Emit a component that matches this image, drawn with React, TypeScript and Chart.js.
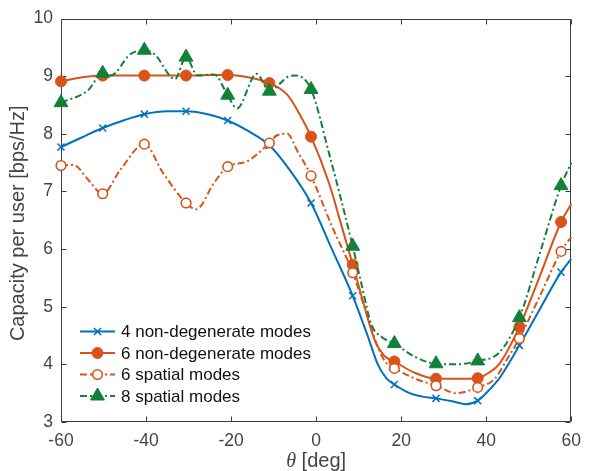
import React, { useEffect, useRef } from 'react';
import { Chart, registerables } from 'chart.js';

Chart.register(...registerables);

// ---------------- data ----------------
const markerTheta = [-60, -50.2, -40.4, -30.6, -20.8, -11, -1.2, 8.6, 18.4, 28.2, 38, 47.8, 57.6];

const seriesLabels = [
  '4 non-degenerate modes',
  '6 non-degenerate modes',
  '6 spatial modes',
  '8 spatial modes',
];

const theta4nd = [-60, -55, -50.2, -45, -40.4, -35, -30.6, -25, -20.8, -16, -11, -6.5, -1.2, 3.7, 8.6, 12, 14.5, 16.5, 18.4, 22, 25, 28.2, 32, 35.3, 38, 41, 43, 47.8, 52.7, 57.6, 60];
const cap4nd = [7.77, 7.94, 8.1, 8.24, 8.34, 8.39, 8.39, 8.33, 8.23, 8.05, 7.8, 7.4, 6.8, 6.0, 5.19, 4.52, 4.0, 3.76, 3.65, 3.5, 3.44, 3.41, 3.36, 3.31, 3.37, 3.58, 3.75, 4.33, 4.97, 5.6, 5.83];

const theta6nd = [-60, -55, -50.2, -45, -40.4, -35, -30.6, -25, -20.8, -16, -11, -6.7, -3.6, -1.2, 3, 5.8, 8.6, 11, 13.8, 16, 18.4, 23, 28.2, 33, 38, 40.5, 43, 47.8, 52.7, 57.6, 60];
const cap6nd = [8.91, 8.98, 9.01, 9.01, 9.01, 9.01, 9.01, 9.02, 9.02, 8.98, 8.88, 8.67, 8.3, 7.95, 7.15, 6.45, 5.73, 5.1, 4.41, 4.15, 4.05, 3.86, 3.75, 3.75, 3.76, 3.85, 4.0, 4.65, 5.55, 6.47, 6.78];

const theta6sp = [-60, -57, -53.7, -50.2, -46, -40.4, -36, -30.6, -28.2, -24, -20.8, -16.3, -11, -9.3, -6.8, -4.4, -1.2, 3.7, 8.6, 12, 14.5, 16.5, 18.4, 23, 28.2, 33, 38, 42, 45, 47.8, 52.7, 57.6, 60];
const cap6sp = [7.45, 7.46, 7.21, 6.96, 7.38, 7.82, 7.32, 6.8, 6.69, 7.15, 7.43, 7.52, 7.84, 7.97, 8.0, 7.7, 7.27, 6.4, 5.59, 4.85, 4.3, 4.02, 3.93, 3.76, 3.63, 3.5, 3.6, 3.75, 4.1, 4.45, 5.2, 5.96, 6.21];

const theta8sp = [-60, -53.7, -50.2, -48.3, -43.7, -40.4, -38, -33.2, -30.6, -27.9, -24, -20.8, -18.6, -14, -11, -6.3, -4.7, -1.2, 3, 8.6, 10.7, 13, 15.5, 18.4, 23, 28.2, 33, 38, 43, 47.8, 52.7, 57.6, 60];
const cap8sp = [8.54, 8.75, 9.05, 9.01, 9.38, 9.45, 9.38, 8.95, 9.33, 9.01, 9.03, 8.67, 8.44, 9.04, 8.74, 9.0, 9.01, 8.77, 7.67, 6.05, 5.38, 4.69, 4.47, 4.36, 4.14, 4.01, 4.0, 4.06, 4.2, 4.81, 5.95, 7.1, 7.5];

const xTickValues = [-60, -40, -20, 0, 20, 40, 60];
const yTickValues = [3, 4, 5, 6, 7, 8, 9, 10];

// ---------------- styles ----------------
const BLUE = '#0072BD';
const ORANGE = '#D95319';
const GREEN = '#118139';
const AXIS = '#3c3c3c';
const TEXT = '#444444';
const FONT = '"Liberation Sans", Arial, Helvetica, sans-serif';
const DASHDOT = [7, 3, 2, 3];

const markerSet = new Set(markerTheta);

type Style = {
  color: string;
  dash: number[];
  pointStyle: string;
  radius: number;
  fill: string;
  pbw: number;
};

const styles: Style[] = [
  { color: BLUE, dash: [], pointStyle: 'crossRot', radius: 5, fill: BLUE, pbw: 1.5 },
  { color: ORANGE, dash: [], pointStyle: 'circle', radius: 5.5, fill: ORANGE, pbw: 1 },
  { color: ORANGE, dash: DASHDOT, pointStyle: 'circle', radius: 4.8, fill: '#ffffff', pbw: 1.6 },
  { color: GREEN, dash: DASHDOT, pointStyle: 'triangle', radius: 8, fill: GREEN, pbw: 1 },
];

const seriesTheta = [theta4nd, theta6nd, theta6sp, theta8sp];
const seriesCap = [cap4nd, cap6nd, cap6sp, cap8sp];

function drawMarker(ctx: CanvasRenderingContext2D, s: Style, x: number, y: number) {
  ctx.save();
  ctx.setLineDash([]);
  ctx.lineWidth = s.pbw;
  ctx.strokeStyle = s.color;
  ctx.fillStyle = s.fill;
  const r = s.radius;
  ctx.beginPath();
  if (s.pointStyle === 'circle') {
    ctx.arc(x, y, r, 0, Math.PI * 2);
    ctx.fill();
    ctx.stroke();
  } else if (s.pointStyle === 'triangle') {
    for (let k = 0; k < 3; k++) {
      const a = (k * 2 * Math.PI) / 3;
      const px = x + Math.sin(a) * r;
      const py = y - Math.cos(a) * r;
      if (k === 0) ctx.moveTo(px, py);
      else ctx.lineTo(px, py);
    }
    ctx.closePath();
    ctx.fill();
    ctx.stroke();
  } else {
    const d = r * Math.SQRT1_2;
    ctx.moveTo(x - d, y - d);
    ctx.lineTo(x + d, y + d);
    ctx.moveTo(x - d, y + d);
    ctx.lineTo(x + d, y - d);
    ctx.stroke();
  }
  ctx.restore();
}

const axesPlugin = {
  id: 'matlabAxes',
  beforeDatasetsDraw(chart: any) {
    const { ctx, chartArea } = chart;
    const { left, right, top, bottom } = chartArea;
    const xs = chart.scales.x;
    const ys = chart.scales.y;
    ctx.save();
    ctx.strokeStyle = AXIS;
    ctx.lineWidth = 1;
    const L = Math.round(left) + 0.5;
    const R = Math.round(right) - 0.5;
    const T = Math.round(top) + 0.5;
    const B = Math.round(bottom) - 0.5;
    ctx.beginPath();
    ctx.rect(L, T, R - L, B - T);
    ctx.stroke();
    const tl = 5;
    ctx.beginPath();
    xTickValues.forEach((v) => {
      const px = Math.round(xs.getPixelForValue(v)) + 0.5;
      ctx.moveTo(px, B);
      ctx.lineTo(px, B - tl);
      ctx.moveTo(px, T);
      ctx.lineTo(px, T + tl);
    });
    yTickValues.forEach((v) => {
      const py = Math.round(ys.getPixelForValue(v)) + 0.5;
      ctx.moveTo(L, py);
      ctx.lineTo(L + tl, py);
      ctx.moveTo(R, py);
      ctx.lineTo(R - tl, py);
    });
    ctx.stroke();
    ctx.restore();
  },
  afterDraw(chart: any) {
    const { ctx, chartArea } = chart;
    ctx.save();
    // y label
    ctx.fillStyle = TEXT;
    ctx.font = `20px ${FONT}`;
    ctx.textAlign = 'center';
    ctx.textBaseline = 'middle';
    ctx.translate(18, (chartArea.top + chartArea.bottom) / 2 + 3);
    ctx.rotate(-Math.PI / 2);
    ctx.fillText('Capacity per user [bps/Hz]', 0, 0);
    ctx.restore();

    // x label: italic theta + [deg]
    ctx.save();
    ctx.fillStyle = TEXT;
    ctx.textBaseline = 'alphabetic';
    ctx.textAlign = 'left';
    const thetaFont = `italic 20px "Liberation Serif", "Times New Roman", serif`;
    const restFont = `20px ${FONT}`;
    ctx.font = thetaFont;
    const w1 = ctx.measureText('θ').width;
    ctx.font = restFont;
    const w2 = ctx.measureText(' [deg]').width;
    const cx = (chartArea.left + chartArea.right) / 2;
    const x0 = cx - (w1 + w2) / 2;
    const by = 467;
    ctx.font = thetaFont;
    ctx.fillText('θ', x0, by);
    ctx.font = restFont;
    ctx.fillText(' [deg]', x0 + w1, by);
    ctx.restore();

    // legend
    ctx.save();
    seriesLabels.forEach((label, i) => {
      const s = styles[i];
      const y = 331.5 + i * 21.5;
      ctx.save();
      ctx.strokeStyle = s.color;
      ctx.lineWidth = 2;
      ctx.setLineDash(s.dash);
      ctx.beginPath();
      ctx.moveTo(80, y);
      ctx.lineTo(115, y);
      ctx.stroke();
      ctx.restore();
      drawMarker(ctx, s, 97.5, y);
      ctx.fillStyle = '#111111';
      ctx.font = `17px ${FONT}`;
      ctx.textAlign = 'left';
      ctx.textBaseline = 'middle';
      ctx.fillText(label, 121, y + 1);
    });
    ctx.restore();
  },
};

export default function App() {
  const ref = useRef<HTMLCanvasElement>(null);

  useEffect(() => {
    const canvas = ref.current;
    if (!canvas) return;
    const datasets = seriesLabels.map((label, i) => {
      const s = styles[i];
      const th = seriesTheta[i];
      const cap = seriesCap[i];
      return {
        label,
        data: th.map((t, k) => ({ x: t, y: cap[k] })),
        borderColor: s.color,
        backgroundColor: s.fill,
        borderWidth: 2,
        borderDash: s.dash,
        fill: false,
        cubicInterpolationMode: 'monotone' as const,
        tension: 0.4,
        clip: false as any,
        order: 4 - i,
        pointStyle: s.pointStyle as any,
        pointBackgroundColor: s.fill,
        pointBorderColor: s.color,
        pointBorderWidth: s.pbw,
        pointRadius: (c: any) => (c.raw && markerSet.has(c.raw.x) ? s.radius : 0),
        pointHoverRadius: 0,
      };
    });

    const chart = new Chart(canvas, {
      type: 'line',
      data: { datasets },
      plugins: [axesPlugin],
      options: {
        animation: false,
        responsive: false,
        events: [],
        layout: { padding: { left: 0, right: 10, top: 14, bottom: 0 } },
        plugins: {
          legend: { display: false },
          tooltip: { enabled: false },
          title: { display: false },
        },
        scales: {
          x: {
            type: 'linear',
            min: -60,
            max: 60,
            afterFit: (scale: any) => {
              scale.height = 49;
            },
            afterBuildTicks: (scale: any) => {
              scale.ticks = xTickValues.map((v) => ({ value: v }));
            },
            grid: { display: false, drawTicks: false },
            border: { display: false },
            ticks: {
              color: TEXT,
              font: { family: FONT, size: 17.5 },
              padding: 9,
              maxRotation: 0,
              autoSkip: false,
            },
          },
          y: {
            type: 'linear',
            min: 3,
            max: 10,
            afterFit: (scale: any) => {
              scale.width = 61;
            },
            afterBuildTicks: (scale: any) => {
              scale.ticks = yTickValues.map((v) => ({ value: v }));
            },
            grid: { display: false, drawTicks: false },
            border: { display: false },
            ticks: {
              color: TEXT,
              font: { family: FONT, size: 17.5 },
              padding: 8,
              autoSkip: false,
            },
          },
        },
      } as any,
    });
    return () => chart.destroy();
  }, []);

  return (
    <div style={{ position: 'absolute', left: 0, top: 0, width: 590, height: 471, background: '#ffffff' }}>
      <canvas ref={ref} width={590} height={471} style={{ display: 'block', width: 590, height: 471 }} />
    </div>
  );
}
